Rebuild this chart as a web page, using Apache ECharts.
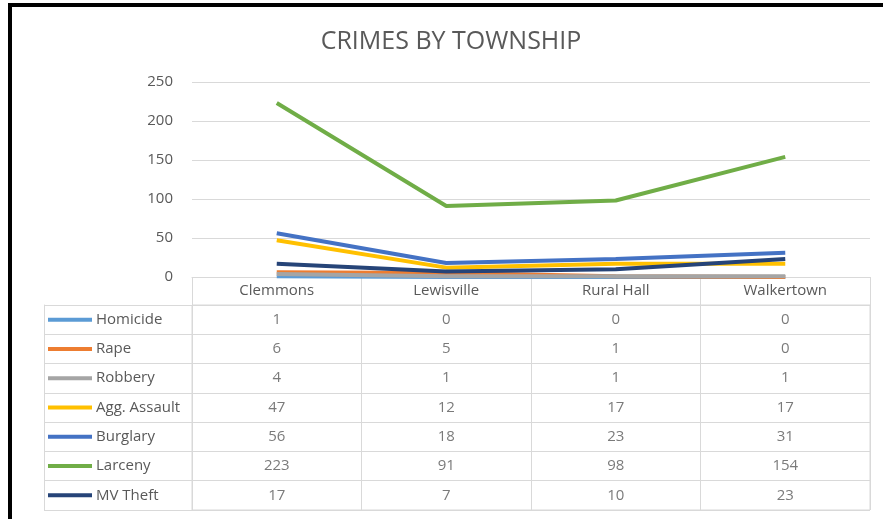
<!DOCTYPE html>
<html>
<head>
<meta charset="utf-8">
<script src="https://cdn.jsdelivr.net/npm/echarts@6/dist/echarts.min.js"></script>
<style>
  html, body { margin: 0; padding: 0; background: #fff; }
  #chart { position: absolute; left: 0; top: 0; width: 883px; height: 519px; }
  #frame {
    position: absolute; left: 8px; top: 3px; width: 880px; height: 520px;
    border-top: 4px solid #000; border-left: 4px solid #000;
    pointer-events: none;
  }
</style>
</head>
<body>
<div id="chart"></div>
<div id="frame"></div>
<script>
  // 乡镇
  let towns = ['Clemmons', 'Lewisville', 'Rural Hall', 'Walkertown']
  // 各类案件
  let homicide = [1, 0, 0, 0]
  let rape = [6, 5, 1, 0]
  let robbery = [4, 1, 1, 1]
  let aggAssault = [47, 12, 17, 17]
  let burglary = [56, 18, 23, 31]
  let larceny = [223, 91, 98, 154]
  let mvTheft = [17, 7, 10, 23]
  let yTicks = [0, 50, 100, 150, 200, 250]

  let names = ['Homicide', 'Rape', 'Robbery', 'Agg. Assault', 'Burglary', 'Larceny', 'MV Theft']
  let values = [homicide, rape, robbery, aggAssault, burglary, larceny, mvTheft]
  let colors = ['#5b9bd5', '#ed7d31', '#a5a5a5', '#ffc000', '#4472c4', '#70ad47', '#264478']

  let textColor = '#595959'
  let lineColor = '#d9d9d9'
  let font = '"Open Sans", "Noto Sans", sans-serif'

  // 图例标记(rich)
  let rich = { t: { fontSize: 15, color: textColor, fontFamily: font, padding: [0, 0, 0, 4] } }
  colors.forEach((c, i) => {
    rich['m' + i] = { width: 44, height: 4, backgroundColor: c }
  })

  // 折线
  let lineSeries = names.map((n, i) => ({
    name: n,
    type: 'line',
    xAxisIndex: 0,
    yAxisIndex: 0,
    data: values[i],
    symbol: 'none',
    lineStyle: { width: 4, color: colors[i] },
    itemStyle: { color: colors[i] }
  }))

  // 表格单元格
  let cells = []
  values.forEach((arr, r) => {
    arr.forEach((v, c) => {
      cells.push([c, r, v])
    })
  })

  let chart = echarts.init(document.getElementById('chart'))
  let option = {
    animation: false,
    title: {
      text: 'CRIMES BY TOWNSHIP',
      left: 446,
      textAlign: 'center',
      top: 24,
      textStyle: { fontSize: 25, fontWeight: 'normal', color: textColor, fontFamily: font }
    },
    grid: [
      { left: 192, right: 13, top: 82, height: 195 },
      { left: 192, right: 13, top: 305, bottom: 9, show: true, borderColor: lineColor, borderWidth: 1 }
    ],
    xAxis: [
      {
        gridIndex: 0,
        type: 'category',
        data: towns,
        boundaryGap: true,
        axisLine: { show: true, lineStyle: { color: lineColor } },
        axisTick: { show: true, interval: 0, length: 28, lineStyle: { color: lineColor } },
        axisLabel: { show: true, interval: 0, margin: 6, fontSize: 15, color: textColor, fontFamily: font },
        splitLine: { show: false }
      },
      {
        gridIndex: 1,
        type: 'category',
        data: towns,
        boundaryGap: true,
        axisLine: { show: false },
        axisTick: { show: false },
        axisLabel: { show: false },
        splitLine: { show: true, interval: 0, lineStyle: { color: lineColor } }
      }
    ],
    yAxis: [
      {
        gridIndex: 0,
        type: 'value',
        min: yTicks[0],
        max: yTicks[yTicks.length - 1],
        interval: 50,
        axisLine: { show: false },
        axisTick: { show: false },
        axisLabel: { margin: 19, fontSize: 15, color: textColor, fontFamily: font },
        splitLine: { show: true, lineStyle: { color: lineColor } }
      },
      {
        gridIndex: 1,
        type: 'category',
        data: names,
        inverse: true,
        boundaryGap: true,
        axisLine: { show: false },
        axisTick: { show: true, interval: 0, length: 148, lineStyle: { color: lineColor } },
        axisLabel: {
          show: true,
          interval: 0,
          align: 'left',
          margin: 144,
          formatter: (v, i) => '{m' + i + '|}{t|' + v + '}',
          rich: rich
        },
        splitLine: { show: true, interval: 0, lineStyle: { color: lineColor } }
      },
      {
        // 表格最左边框
        gridIndex: 1,
        type: 'category',
        data: names,
        inverse: true,
        position: 'left',
        offset: 148,
        axisLine: { show: true, lineStyle: { color: lineColor } },
        axisTick: { show: false },
        axisLabel: { show: false },
        splitLine: { show: false }
      }
    ],
    series: lineSeries.concat([{
      type: 'scatter',
      xAxisIndex: 1,
      yAxisIndex: 1,
      data: cells,
      symbolSize: 1,
      itemStyle: { color: 'rgba(0,0,0,0)' },
      label: {
        show: true,
        position: 'inside',
        formatter: p => p.value[2],
        fontSize: 15,
        color: textColor,
        fontFamily: font
      }
    }])
  }
  chart.setOption(option, true)
</script>
</body>
</html>
